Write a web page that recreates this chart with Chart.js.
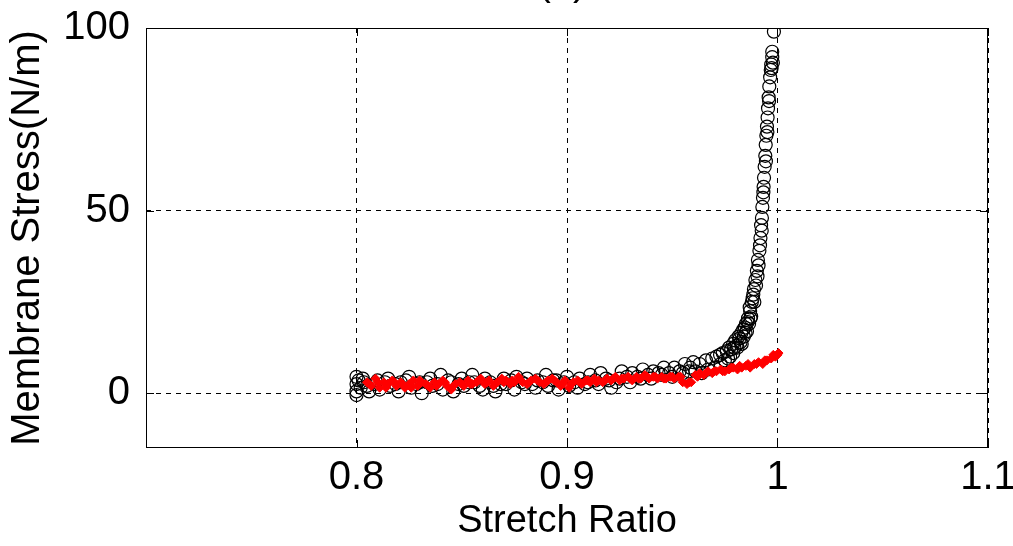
<!DOCTYPE html>
<html>
<head>
<meta charset="utf-8">
<script src="https://cdn.jsdelivr.net/npm/chart.js@4.4.0/dist/chart.umd.min.js"></script>
<style>
  html, body { margin: 0; padding: 0; background: #fff; }
  #wrap { width: 1013px; height: 546px; }
</style>
</head>
<body>
<div id="wrap"><canvas id="c"></canvas></div>
<script>
// measured points (black circles)
const blackStretch = [
  0.800, 0.800, 0.800, 0.800, 0.801, 0.802, 0.803, 0.805, 0.806, 0.810, 0.811, 0.815, 0.816, 0.820, 0.821,
  0.825, 0.826, 0.830, 0.831, 0.835, 0.836, 0.840, 0.841, 0.845, 0.846, 0.850, 0.851, 0.855, 0.856, 0.860,
  0.861, 0.865, 0.866, 0.870, 0.871, 0.875, 0.876, 0.880, 0.881, 0.885, 0.886, 0.890, 0.891, 0.895, 0.896,
  0.900, 0.901, 0.905, 0.906, 0.910, 0.911, 0.915, 0.916, 0.920, 0.921, 0.925, 0.926, 0.930, 0.931, 0.935,
  0.936, 0.940, 0.941, 0.945, 0.946, 0.950, 0.951, 0.955, 0.956, 0.958, 0.960, 0.961,
  0.8035, 0.8085, 0.8135, 0.8185, 0.8235, 0.8285, 0.8335, 0.8385, 0.8435, 0.8485, 0.8535, 0.8585, 0.8635,
  0.8685, 0.8735, 0.8785, 0.8835, 0.8885, 0.8935, 0.8985, 0.9035, 0.9085, 0.9135, 0.9185, 0.9235, 0.9285,
  0.9335, 0.9385, 0.9435, 0.9485, 0.9535, 0.9585,
  0.963, 0.964, 0.966, 0.967, 0.969, 0.970, 0.971, 0.9727, 0.973, 0.974, 0.975, 0.9759, 0.977, 0.9775,
  0.9789, 0.979, 0.980, 0.981, 0.9815, 0.9825, 0.9828, 0.9838, 0.984, 0.985, 0.9855, 0.986, 0.9865, 0.987,
  0.9875, 0.9878, 0.9885, 0.9888, 0.9895, 0.9902, 0.9907, 0.9914, 0.9919, 0.9922, 0.9926, 0.9928, 0.9931,
  0.9934, 0.9936, 0.9939, 0.9942, 0.9944, 0.9947, 0.995, 0.9953, 0.9955, 0.9958, 0.9961, 0.9965, 0.9968,
  0.997, 0.9975, 0.9983,
  0.9765, 0.978, 0.9795, 0.9805, 0.982, 0.983, 0.9845, 0.9848, 0.9858, 0.9868, 0.9872, 0.9882, 0.989,
  0.9898, 0.9905, 0.991, 0.9917, 0.9925, 0.9933, 0.9945, 0.9952, 0.996, 0.9972, 0.9978, 0.9975
];
const blackStress = [
  4.5, 2.5, 0.5, -0.5, 3.5, 1.5, 4.0, 2.0, 0.5, 3.5, 1.0, 4.0, 2.0, 0.5, 3.0,
  4.5, 1.5, 3.0, 0.0, 4.0, 2.0, 5.0, 1.0, 3.0, 0.5, 4.0, 2.0, 5.0, 3.0, 1.0,
  4.0, 2.0, 0.5, 4.0, 2.5, 1.0, 4.5, 2.5, 4.0, 1.5, 3.5, 5.0, 2.0, 3.5, 1.0,
  4.5, 2.0, 1.5, 4.0, 3.0, 5.0, 2.5, 5.5, 3.5, 1.5, 4.0, 6.0, 3.0, 5.5, 4.0,
  6.5, 4.0, 6.0, 5.0, 7.0, 4.5, 7.0, 5.5, 8.0, 6.0, 8.5, 6.0,
  3.0, 2.5, 3.0, 2.5, 3.5, 2.5, 3.0, 2.5, 3.5, 2.5, 3.0, 2.0, 3.0,
  2.5, 3.5, 3.0, 2.5, 3.0, 3.5, 3.0, 3.0, 2.5, 3.5, 4.0, 3.0, 4.5,
  4.5, 5.0, 5.5, 5.5, 6.0, 7.0,
  8.0, 5.5, 9.0, 6.5, 9.5, 7.0, 10.0, 10.5, 8.0, 11.0, 9.0, 11.5, 12.5, 10.0,
  13.5, 11.0, 14.5, 12.5, 15.5, 14.0, 16.5, 17.5, 15.5, 19.0, 17.0, 20.5, 19.0, 22.5,
  21.0, 25.0, 27.0, 28.5, 31.0, 33.5, 36.5, 39.0, 42.5, 46.0, 48.0, 51.0, 53.5,
  56.5, 59.0, 62.0, 65.0, 68.0, 70.5, 73.0, 75.5, 78.0, 81.0, 84.0, 86.5, 88.5,
  90.0, 92.0, 99.0,
  9.5, 12.0, 12.5, 13.0, 15.0, 13.5, 18.0, 16.5, 19.5, 23.5, 20.5, 26.0, 25.0,
  29.5, 32.0, 35.0, 40.5, 44.5, 55.0, 63.5, 71.5, 80.0, 89.0, 90.5, 93.5
];

// red points
const redStretch = [
  0.805, 0.807, 0.809, 0.811, 0.813, 0.815, 0.817, 0.819, 0.821, 0.823, 0.825, 0.827, 0.829, 0.831, 0.833,
  0.835, 0.837, 0.839, 0.841, 0.843, 0.845, 0.847, 0.849, 0.851, 0.853, 0.855, 0.857, 0.859, 0.861, 0.863,
  0.865, 0.867, 0.869, 0.871, 0.873, 0.875, 0.877, 0.879, 0.881, 0.883, 0.885, 0.887, 0.889, 0.891, 0.893,
  0.895, 0.897, 0.899, 0.901, 0.903, 0.905, 0.907, 0.909, 0.911, 0.913, 0.915, 0.917, 0.919, 0.921, 0.923,
  0.925, 0.927, 0.929, 0.931, 0.933, 0.935, 0.937, 0.939, 0.941, 0.943, 0.945, 0.947, 0.949, 0.951, 0.953,
  0.955, 0.957, 0.959, 0.961, 0.963, 0.965, 0.967, 0.969, 0.971, 0.973, 0.975, 0.977, 0.979, 0.981, 0.983,
  0.985, 0.987, 0.989, 0.991, 0.993, 0.995, 0.997, 0.999, 1.000, 1.0005,
  0.806, 0.810, 0.814, 0.818, 0.822, 0.826, 0.830, 0.834, 0.838, 0.842, 0.846, 0.850, 0.854, 0.858, 0.862,
  0.866, 0.870, 0.874, 0.878, 0.882, 0.886, 0.890, 0.894, 0.898, 0.902, 0.906, 0.910, 0.914, 0.918, 0.922,
  0.926, 0.930, 0.934, 0.938, 0.942, 0.946, 0.950, 0.954, 0.958, 0.962, 0.966, 0.970, 0.974, 0.978, 0.982,
  0.986, 0.990, 0.994, 0.998
];
const redStress = [
  3.0, 2.0, 4.0, 1.5, 3.0, 2.5, 3.5, 2.0, 3.0, 1.5, 2.5, 3.5, 2.0, 3.0, 2.5,
  1.5, 3.0, 2.5, 3.5, 2.0, 1.0, 2.5, 3.0, 2.0, 3.5, 2.5, 3.0, 4.0, 2.5, 3.5,
  2.0, 3.0, 4.0, 3.5, 2.5, 3.0, 4.5, 3.0, 2.5, 3.5, 4.0, 3.0, 2.5, 3.5, 4.0,
  3.0, 2.0, 3.5, 1.5, 3.0, 3.5, 2.5, 3.5, 3.0, 4.0, 3.5, 3.0, 4.0, 3.5, 4.5,
  3.5, 4.0, 4.5, 3.5, 4.5, 4.0, 5.0, 4.0, 4.5, 4.0, 4.5, 4.0, 4.5, 4.0, 4.5,
  3.0, 2.5, 3.0, 5.0, 5.5, 5.0, 6.0, 5.5, 6.0, 6.5, 6.0, 6.5, 7.0, 6.5, 7.0,
  7.5, 7.0, 8.0, 8.5, 8.0, 9.0, 9.5, 10.0, 10.5, 11.0,
  2.5, 3.0, 1.5, 3.0, 2.5, 1.5, 3.5, 2.0, 2.0, 3.0, 2.0, 2.5, 2.5, 3.5, 3.0,
  2.5, 3.0, 3.5, 3.5, 3.0, 3.5, 3.0, 3.5, 2.5, 2.5, 3.0, 3.5, 3.0, 3.5, 4.0,
  4.0, 4.0, 4.0, 4.5, 4.5, 4.0, 4.5, 4.5, 3.0, 4.5, 5.5, 6.0, 6.0, 7.0, 7.5,
  8.0, 8.0, 9.0, 10.5
];

const xTicks = [0.8, 0.9, 1, 1.1];
const yTicks = [0, 50, 100];

const toPoints = (xs, ys) => xs.map((x, i) => ({ x: x, y: ys[i] }));

const FONT = 'Liberation Sans, Arial, sans-serif';

// frame + inward tick marks, like matlab axes
const framePlugin = {
  id: 'frame',
  beforeDatasetsDraw(chart) {
    const { ctx, chartArea: a, scales } = chart;
    ctx.save();
    ctx.strokeStyle = '#000';
    ctx.lineWidth = 1;
    ctx.strokeRect(a.left + 0.5, a.top + 0.5, a.right - a.left - 1, a.bottom - a.top - 1);
    ctx.beginPath();
    xTicks.forEach(v => {
      const px = Math.round(scales.x.getPixelForValue(v)) + 0.5;
      ctx.moveTo(px, a.bottom); ctx.lineTo(px, a.bottom - 8);
      ctx.moveTo(px, a.top); ctx.lineTo(px, a.top + 8);
    });
    yTicks.forEach(v => {
      const py = Math.round(scales.y.getPixelForValue(v)) + 0.5;
      ctx.moveTo(a.left, py); ctx.lineTo(a.left + 8, py);
      ctx.moveTo(a.right, py); ctx.lineTo(a.right - 8, py);
    });
    ctx.stroke();
    ctx.restore();
  },
  afterDraw(chart) {
    // title "(a)" is cut off by the top edge in the original
    const { ctx, chartArea: a } = chart;
    ctx.save();
    ctx.fillStyle = '#000';
    ctx.font = '40px ' + FONT;
    ctx.textAlign = 'center';
    ctx.textBaseline = 'alphabetic';
    ctx.fillText('(a)', (a.left + a.right) / 2 - 5, -5);
    ctx.restore();
  }
};

new Chart(document.getElementById('c'), {
  type: 'scatter',
  data: {
    datasets: [
      {
        label: 'red',
        data: toPoints(redStretch, redStress),
        pointStyle: 'rectRot',
        pointRadius: 4.5,
        backgroundColor: '#ff0000',
        borderColor: '#ff0000',
        borderWidth: 1
      },
      {
        label: 'black',
        data: toPoints(blackStretch, blackStress),
        pointStyle: 'circle',
        pointRadius: 6.5,
        backgroundColor: 'rgba(0,0,0,0)',
        borderColor: '#000',
        borderWidth: 1.2
      }
    ]
  },
  options: {
    responsive: true,
    maintainAspectRatio: false,
    animation: false,
    layout: { padding: { top: 28, right: 25, left: 0, bottom: 0 } },
    plugins: {
      legend: { display: false },
      tooltip: { enabled: false }
    },
    scales: {
      x: {
        type: 'linear',
        min: 0.7,
        max: 1.1,
        afterFit: s => { s.height = 98; s.paddingLeft = 0; s.paddingRight = 0; },
        ticks: {
          stepSize: 0.1,
          includeBounds: false,
          color: '#000',
          padding: 6,
          maxRotation: 0,
          font: { family: FONT, size: 40 },
          callback: v => (Math.abs(v - 0.7) < 1e-6 ? '' : String(+v.toFixed(2)))
        },
        grid: { color: '#000', lineWidth: 1, drawTicks: false },
        border: { display: false, dash: [5, 5] },
        title: {
          display: true,
          text: 'Stretch Ratio',
          color: '#000',
          font: { family: FONT, size: 38 },
          padding: { top: 0, bottom: 2 }
        }
      },
      y: {
        type: 'linear',
        min: -15,
        max: 100,
        afterFit: s => { s.width = 146; s.paddingTop = 0; s.paddingBottom = 0; },
        ticks: {
          stepSize: 50,
          includeBounds: false,
          color: '#000',
          padding: 16,
          font: { family: FONT, size: 40 }
        },
        grid: { color: '#000', lineWidth: 1, drawTicks: false },
        border: { display: false, dash: [5, 5] },
        title: {
          display: true,
          text: 'Membrane Stress(N/m)',
          color: '#000',
          font: { family: FONT, size: 40 },
          padding: { top: 4, bottom: 0 }
        }
      }
    }
  },
  plugins: [framePlugin]
});
</script>
</body>
</html>
